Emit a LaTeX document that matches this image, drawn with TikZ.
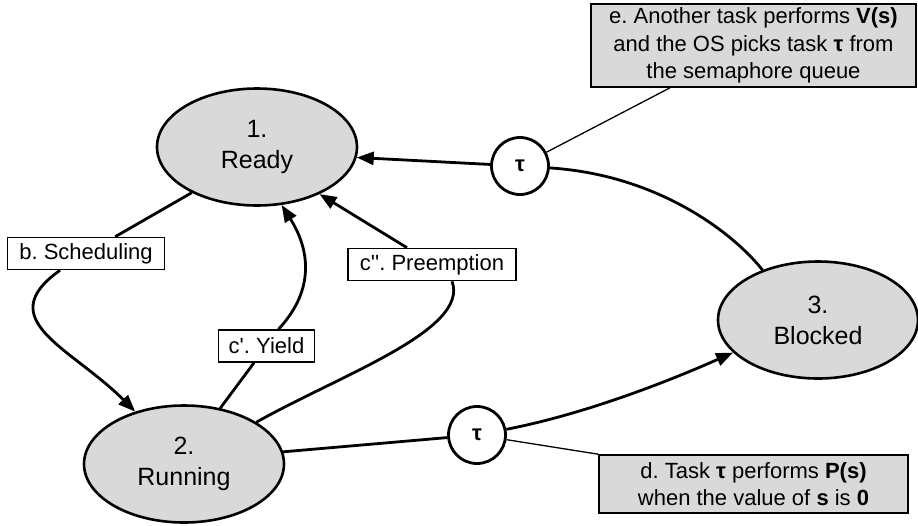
\documentclass[tikz,border=0pt]{standalone}
\usepackage{fontspec}
\setmainfont{Liberation Sans}
\frenchspacing
\usetikzlibrary{shapes.geometric,arrows.meta}
\definecolor{fillgray}{RGB}{217,217,217}
\tikzset{
  state/.style={ellipse, draw, line width=2.6pt, fill=fillgray, minimum width=200pt, minimum height=117pt, inner sep=0pt, align=center, font=\fontsize{25}{31}\selectfont},
  lbl/.style={rectangle, draw, line width=1.6pt, fill=white, inner sep=0pt, minimum height=32pt, font=\fontsize{22}{26}\selectfont},
  note/.style={rectangle, draw, line width=1.6pt, fill=fillgray, inner sep=0pt, align=center, font=\fontsize{22}{27.5}\selectfont},
  taunode/.style={circle, draw, line width=2.8pt, fill=white, minimum size=57pt, inner sep=0pt, font=\fontsize{22}{24}\selectfont\bfseries},
  conn/.style={line width=2.8pt, -{Triangle[length=17pt,width=13pt]}},
  plain/.style={line width=2.8pt},
  thin/.style={line width=1.3pt}
}
\begin{document}
\begin{tikzpicture}[x=1pt,y=-1pt]
\useasboundingbox (0,0) rectangle (918,525);
% states
\node[state] (ready) at (257,147) {1.\\Ready};
\node[state] (running) at (184,464) {2.\\Running};
\node[state] (blocked) at (818,320) {3.\\Blocked};
% tau circles
\node[taunode] (tau1) at (520,166) {τ};
\node[taunode] (tau2) at (477,435) {τ};
% notes
\node[note, minimum width=325pt, minimum height=83pt] (ebox) at (753.5,45.5) {e. Another task performs \textbf{V(s)}\\and the OS picks task \textbf{τ} from\\the semaphore queue};
\node[note, minimum width=309pt, minimum height=58pt] (dbox) at (753.5,484) {d. Task \textbf{τ} performs \textbf{P(s)}\\when the value of \textbf{s} is \textbf{0}};
% label boxes
\node[lbl, minimum width=157pt] (bbox) at (86,253.5) {b. Scheduling};
\node[lbl, minimum width=96pt] (ybox) at (266.5,346) {c\textquotesingle. Yield};
\node[lbl, minimum width=168pt] (pbox) at (432,264.5) {c\textquotesingle\textquotesingle. Preemption};
% b. Scheduling
\draw[plain] (ready.215) -- (bbox);
\draw[conn] ([xshift=-26pt]bbox.south) .. controls (-10,320) and (72,348) .. (running.133);
% c'. Yield
\draw[plain] (running.57) -- (ybox);
\draw[conn] ([xshift=12pt]ybox.north) .. controls (315,290) and (310,250) .. (ready.-67);
% c''. Preemption
\draw[plain] (running.30) .. controls (340,375) and (470,330) .. ([xshift=20pt]pbox.south);
\draw[conn] ([xshift=-25pt]pbox.north) -- (ready.-37);
% e: Blocked -> Ready
\draw[plain] (blocked.138) .. controls (735,235) and (660,175) .. (tau1);
\draw[conn] (tau1) -- (ready.-6);
\draw[thin] (tau1) -- ([xshift=-83.5pt]ebox.south);
% d: Running -> Blocked
\draw[plain] (running.7) -- (tau2);
\draw[conn] (tau2) .. controls (580,415) and (660,385) .. (blocked.201);
\draw[thin] (tau2) -- (dbox.north west);
\end{tikzpicture}
\end{document}
